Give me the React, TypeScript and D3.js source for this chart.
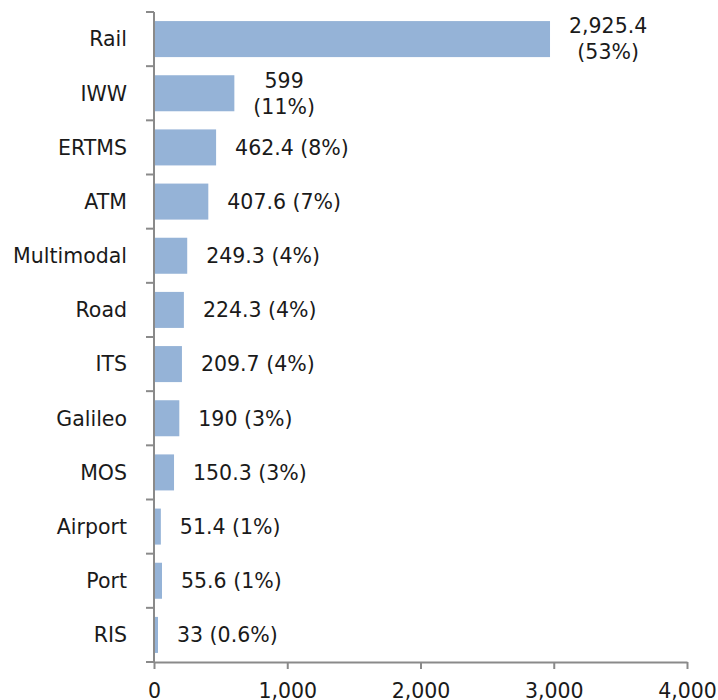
import React, { useEffect, useRef } from "react";
import * as d3 from "d3";

const categories = ["Rail", "IWW", "ERTMS", "ATM", "Multimodal", "Road", "ITS", "Galileo", "MOS", "Airport", "Port", "RIS"];
// bar lengths as drawn in the picture
const barValues = [2972, 603, 466, 407.6, 249.3, 224.3, 209.7, 190, 150.3, 51.4, 60, 30];
const valueLabels = [
    ["2,925.4", "(53%)"],
    ["599", "(11%)"],
    ["462.4 (8%)"],
    ["407.6 (7%)"],
    ["249.3 (4%)"],
    ["224.3 (4%)"],
    ["209.7 (4%)"],
    ["190 (3%)"],
    ["150.3 (3%)"],
    ["51.4 (1%)"],
    ["55.6 (1%)"],
    ["33 (0.6%)"],
];
const xTicks = [0, 1000, 2000, 3000, 4000];

const W = 718;
const H = 700;
const FONT = "'DejaVu Sans', sans-serif";
const FS = 20.5;
const AXIS = "#8a8a8a";

export default function App() {
    const node = useRef<SVGSVGElement>(null);

    useEffect(() => {
        const svg = d3.select(node.current!);
        svg.selectAll("*").remove();

        const x = d3.scaleLinear().domain([0, 4000]).range([154, 687]);
        const y = d3.scaleBand<string>()
            .domain(categories)
            .range([12, 662])
            .paddingInner(0.335)
            .paddingOuter(0.1675);

        // bars
        svg.append("g")
            .selectAll("rect")
            .data(categories)
            .join("rect")
            .attr("x", x(0))
            .attr("y", d => y(d)!)
            .attr("width", (d, i) => x(barValues[i]) - x(0))
            .attr("height", y.bandwidth())
            .attr("fill", "#95b3d7");

        // y axis line + ticks at band boundaries
        const [y0, y1] = y.range();
        svg.append("line")
            .attr("x1", x(0)).attr("x2", x(0))
            .attr("y1", y0).attr("y2", y1)
            .attr("stroke", AXIS).attr("stroke-width", 2);
        svg.append("g")
            .selectAll("line")
            .data(d3.range(categories.length + 1))
            .join("line")
            .attr("x1", x(0) - 8).attr("x2", x(0))
            .attr("y1", i => y0 + i * y.step())
            .attr("y2", i => y0 + i * y.step())
            .attr("stroke", AXIS).attr("stroke-width", 2);

        // category labels
        svg.append("g")
            .selectAll("text")
            .data(categories)
            .join("text")
            .attr("x", 127)
            .attr("y", d => y(d)! + y.bandwidth() / 2)
            .attr("dy", "0.36em")
            .attr("text-anchor", "end")
            .attr("font-family", FONT)
            .attr("font-size", FS)
            .attr("fill", "#1a1a1a")
            .text(d => d);

        // x axis
        const xAxis = d3.axisBottom(x)
            .tickValues(xTicks)
            .tickFormat(d3.format(","))
            .tickSize(7)
            .tickSizeOuter(0)
            .tickPadding(14);
        const gx = svg.append("g")
            .attr("transform", `translate(0, ${y1})`)
            .call(xAxis);
        gx.select(".domain").attr("stroke", AXIS).attr("stroke-width", 2);
        gx.selectAll(".tick line").attr("stroke", AXIS).attr("stroke-width", 2);
        gx.selectAll(".tick text")
            .attr("font-family", FONT)
            .attr("font-size", FS)
            .attr("fill", "#1a1a1a");
        gx.attr("font-family", null).attr("font-size", null);

        // value labels
        const lineH = 26;
        categories.forEach((c, i) => {
            const lines = valueLabels[i];
            const g = svg.append("g");
            const texts = g.selectAll("text")
                .data(lines)
                .join("text")
                .attr("font-family", FONT)
                .attr("font-size", FS)
                .attr("fill", "#1a1a1a")
                .attr("text-anchor", "middle")
                .attr("dy", "0.36em")
                .text(d => d);
            let maxW = 0;
            texts.each(function () {
                maxW = Math.max(maxW, (this as SVGTextElement).getComputedTextLength());
            });
            const cx = x(barValues[i]) + 19 + maxW / 2;
            const cy = y(c)! + y.bandwidth() / 2;
            texts
                .attr("x", cx)
                .attr("y", (d, j) => cy + (j - (lines.length - 1) / 2) * lineH);
        });
    }, []);

    return (
        <svg
            ref={node}
            width={W}
            height={H}
            style={{ position: "absolute", left: 0, top: 0, background: "#fff" }}
        ></svg>
    );
}
